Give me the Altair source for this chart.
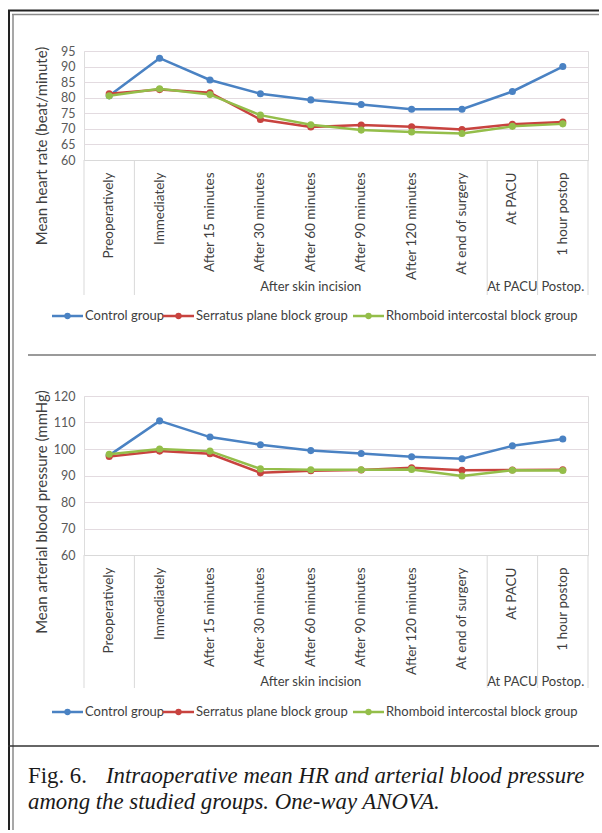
import altair as alt
import pandas as pd

# ---------------- data ----------------
categories = ["Preoperatively", "Immediately", "After 15 minutes", "After 30 minutes",
              "After 60 minutes", "After 90 minutes", "After 120 minutes",
              "At end of surgery", "At PACU", "1 hour postop"]
series = ["Control group", "Serratus plane block group", "Rhomboid intercostal block group"]

hr_control = [80.6, 92.7, 85.7, 81.3, 79.3, 77.8, 76.3, 76.3, 82.0, 90.0]
hr_serratus = [81.3, 82.6, 81.6, 73.0, 70.6, 71.2, 70.7, 69.8, 71.5, 72.2]
hr_rhomboid = [80.6, 82.9, 81.0, 74.4, 71.3, 69.6, 69.0, 68.5, 70.8, 71.6]

map_control = [97.6, 110.6, 104.5, 101.6, 99.4, 98.3, 97.1, 96.3, 101.2, 103.8]
map_serratus = [97.2, 99.2, 98.2, 91.0, 91.8, 92.1, 92.9, 92.0, 92.1, 92.2]
map_rhomboid = [98.0, 100.0, 99.2, 92.5, 92.2, 92.2, 92.3, 89.8, 92.0, 91.9]

hr_ticks = [60, 65, 70, 75, 80, 85, 90, 95]
map_ticks = [60, 70, 80, 90, 100, 110, 120]

group_labels = ["After skin incision", "At PACU", "Postop."]
group_centers = ["After 60 minutes", "At PACU", "1 hour postop"]
group_edges = ["Preoperatively", "Immediately", "At PACU", "1 hour postop"]

colors = ["#4a82c3", "#c8433f", "#94be4a"]

caption_fig = "Fig. 6."
caption_l1 = "Intraoperative mean HR and arterial blood pressure"
caption_l2 = "among the studied groups. One-way ANOVA."

FONT = "Lato"
SERIF = "Liberation Serif"
W = 504
one = pd.DataFrame({"k": [0]})

# page geometry (plot origin of the top panel is at page x=84, y=51)
RIGHT = 515   # right end of frame lines, relative to the plot origin
BOTTOM = 779  # bottom end of the left frame lines, relative to the top plot origin


def long_df(vals_list):
    rows = []
    for s, vals in zip(series, vals_list):
        for c, v in zip(categories, vals):
            rows.append({"cat": c, "series": s, "value": v})
    return pd.DataFrame(rows)


def hrule(x1, x2, y, color, width):
    return alt.Chart(one).mark_rule(color=color, strokeWidth=width).encode(
        x=alt.value(x1), x2=alt.value(x2), y=alt.value(y))


def vrule(x, y1, y2, color, width):
    return alt.Chart(one).mark_rule(color=color, strokeWidth=width).encode(
        x=alt.value(x), y=alt.value(y1), y2=alt.value(y2))


def panel(vals_list, ymin, ymax, ticks, H, ytitle, title_y, group_y, edge_bottom, legend_y):
    df = long_df(vals_list)
    xscale = alt.Scale(type="band", domain=categories, paddingInner=0, paddingOuter=0)
    yscale = alt.Scale(domain=[ymin, ymax], nice=False, zero=False)
    xaxis = alt.Axis(title=None, labelAngle=-90, labelPadding=12, ticks=False, tickSize=0,
                     domain=True, domainColor="#d9d9d9", domainWidth=1, grid=False,
                     labelFont=FONT, labelFontSize=13.5, labelColor="#404040", labelLimit=0)
    yaxis = alt.Axis(title=None, values=ticks, ticks=False, tickSize=0, domain=False,
                     grid=True, gridColor="#e3dbe0", gridWidth=1, labelPadding=9,
                     labelFont=FONT, labelFontSize=12.5, labelColor="#595959")
    layers = []
    for s, col in zip(series, colors):
        sub = alt.Chart(df).transform_filter(alt.datum.series == s)
        enc = dict(x=alt.X("cat:N", scale=xscale, axis=xaxis, sort=categories),
                   y=alt.Y("value:Q", scale=yscale, axis=yaxis))
        layers.append(sub.mark_line(color=col, strokeWidth=2.5).encode(**enc))
        layers.append(sub.mark_circle(color=col, size=50, opacity=1).encode(**enc))

    # category group separators below the plot
    edges = pd.DataFrame({"cat": group_edges})
    layers.append(alt.Chart(edges).mark_rule(color="#d9d9d9", strokeWidth=1).encode(
        x=alt.X("cat:N", scale=xscale, bandPosition=0, axis=xaxis, sort=categories),
        y=alt.value(H), y2=alt.value(edge_bottom)))
    layers.append(alt.Chart(pd.DataFrame({"cat": [categories[-1]]})).mark_rule(
        color="#d9d9d9", strokeWidth=1).encode(
        x=alt.X("cat:N", scale=xscale, bandPosition=1, axis=xaxis, sort=categories),
        y=alt.value(H), y2=alt.value(edge_bottom)))

    # group labels
    gdf = pd.DataFrame({"label": group_labels, "cat": group_centers})
    layers.append(alt.Chart(gdf).mark_text(font=FONT, fontSize=13, color="#404040",
                                           baseline="middle", align="center").encode(
        x=alt.X("cat:N", scale=xscale, bandPosition=0.5, axis=xaxis, sort=categories),
        y=alt.value(group_y), text="label:N"))

    # y title
    layers.append(alt.Chart(one).mark_text(font=FONT, fontSize=15, color="#404040", angle=270,
                                           baseline="middle", align="center").encode(
        x=alt.value(-42), y=alt.value(title_y), text=alt.value(ytitle)))

    # legend
    lx = [-32, 79, 269]
    for s, col, x0 in zip(series, colors, lx):
        layers.append(hrule(x0, x0 + 31, legend_y, col, 2.5))
        layers.append(alt.Chart(one).mark_circle(color=col, size=40, opacity=1).encode(
            x=alt.value(x0 + 15.5), y=alt.value(legend_y)))
        layers.append(alt.Chart(one).mark_text(font=FONT, fontSize=13, color="#404040",
                                               align="left", baseline="middle").encode(
            x=alt.value(x0 + 33), y=alt.value(legend_y), text=alt.value(s)))
    return layers


top_layers = panel([hr_control, hr_serratus, hr_rhomboid], 60, 95, hr_ticks, 109,
                   "Mean heart rate (beat/minute)", 95, 236, 244, 265)
# frame of the figure
top_layers += [
    hrule(-76, RIGHT, -40.5, "#222222", 2),
    vrule(-75, -41, BOTTOM, "#222222", 2),
    hrule(-72, RIGHT, -36.5, "#8a8a8a", 1.5),
    vrule(-71, -37, BOTTOM, "#8a8a8a", 1.5),
    hrule(-56, 512, 304, "#9a9a9a", 2),
]
top = alt.layer(*top_layers).properties(width=W, height=109)

bot_layers = panel([map_control, map_serratus, map_rhomboid], 60, 120, map_ticks, 159,
                   "Mean arterial blood pressure (mmHg)", 116, 286, 292, 316)
bot_layers += [
    hrule(-76, RIGHT, 350, "#333333", 1.5),
    alt.Chart(one).mark_text(font=SERIF, fontSize=22.8, color="#1a1a1a", align="left",
                             baseline="middle").encode(
        x=alt.value(-56), y=alt.value(380), text=alt.value(caption_fig)),
    alt.Chart(one).mark_text(font=SERIF, fontSize=22.8, fontStyle="italic", color="#1a1a1a",
                             align="left", baseline="middle").encode(
        x=alt.value(22), y=alt.value(380), text=alt.value(caption_l1)),
    alt.Chart(one).mark_text(font=SERIF, fontSize=22.8, fontStyle="italic", color="#1a1a1a",
                             align="left", baseline="middle").encode(
        x=alt.value(-56), y=alt.value(406), text=alt.value(caption_l2)),
]
bottom = alt.layer(*bot_layers).properties(width=W, height=159)

chart = alt.vconcat(top, bottom, spacing=236, bounds="flush").configure_view(
    stroke=None).configure(padding={"left": 6, "top": 8, "right": 0, "bottom": 0},
                           background="white")

chart.save("out.html", embed_options={"renderer": "svg", "actions": False})
